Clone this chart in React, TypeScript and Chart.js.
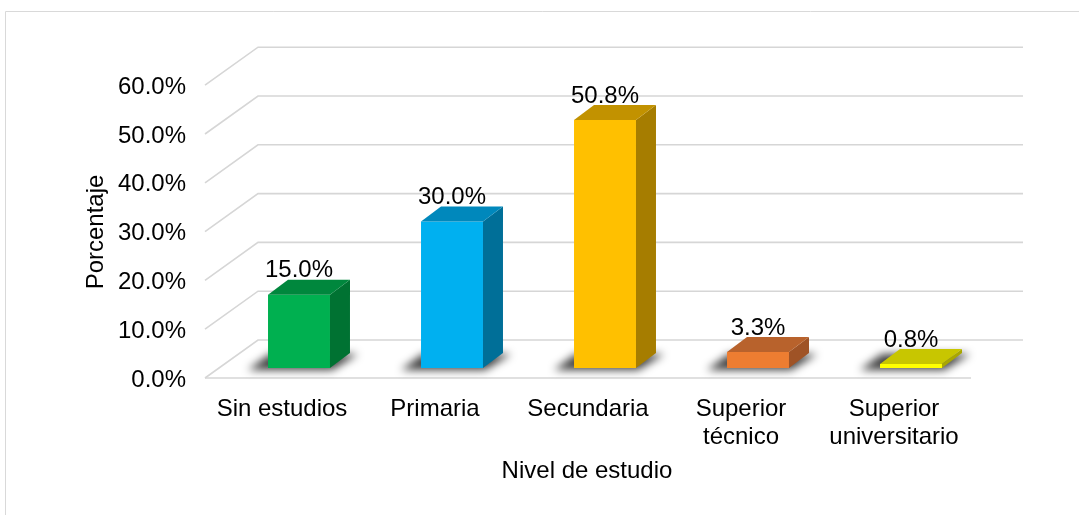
import React, { useEffect, useRef } from 'react';
import { Chart, registerables } from 'chart.js';

Chart.register(...registerables);

const categories: (string | string[])[] = [
  'Sin estudios',
  'Primaria',
  'Secundaria',
  ['Superior', 'técnico'],
  ['Superior', 'universitario'],
];
const values: number[] = [15.0, 30.0, 50.8, 3.3, 0.8];
const valueLabels: string[] = ['15.0%', '30.0%', '50.8%', '3.3%', '0.8%'];
const yTickValues: number[] = [0, 10, 20, 30, 40, 50, 60];
const frontColors: string[] = ['#00B050', '#00B0F0', '#FFC000', '#ED7D31', '#FFFF00'];
const topColors: string[] = ['#00873D', '#0088BC', '#C29200', '#B8622C', '#C8C600'];
const sideColors: string[] = ['#007232', '#006F98', '#A67D00', '#9F5326', '#A9A700'];
const yAxisTitle = 'Porcentaje';
const xAxisTitle = 'Nivel de estudio';

const FONT = "'Liberation Sans', Arial, sans-serif";
const DEPTH_X = 20;
const DEPTH_Y = 15;
const WALL_X = 35.5;
const WALL_Y = 28;
const FLOOR_X = 17.5;
const FLOOR_Y = 10;

const threeD = {
  id: 'threeD',
  beforeDatasetsDraw(chart: any) {
    const { ctx, chartArea, scales } = chart;
    const y = scales.y;
    ctx.save();
    ctx.strokeStyle = '#d9d9d9';
    ctx.lineWidth = 1;
    ctx.beginPath();
    ctx.moveTo(5.5, chart.height);
    ctx.lineTo(5.5, 11.5);
    ctx.lineTo(chart.width, 11.5);
    ctx.stroke();
    ctx.strokeStyle = '#d6d6d6';
    ctx.lineWidth = 1.6;
    yTickValues.forEach((v) => {
      const py = y.getPixelForValue(v);
      ctx.beginPath();
      ctx.moveTo(chartArea.left - FLOOR_X, py + FLOOR_Y);
      ctx.lineTo(chartArea.left + WALL_X, py - WALL_Y);
      ctx.lineTo(chartArea.right + WALL_X, py - WALL_Y);
      ctx.stroke();
    });
    const p0 = y.getPixelForValue(0);
    ctx.beginPath();
    ctx.moveTo(chartArea.left - FLOOR_X, p0 + FLOOR_Y);
    ctx.lineTo(chartArea.right - FLOOR_X + 1, p0 + FLOOR_Y);
    ctx.stroke();
    const meta = chart.getDatasetMeta(0);
    meta.data.forEach((bar: any) => {
      const w = bar.width;
      const l = bar.x - w / 2;
      const r = bar.x + w / 2;
      const b = bar.base;
      ctx.save();
      ctx.filter = 'blur(4px)';
      ctx.fillStyle = 'rgba(0,0,0,0.75)';
      ctx.beginPath();
      ctx.moveTo(l - 20, b + 2);
      ctx.lineTo(r + 2, b + 2);
      ctx.lineTo(r + 28, b - 14);
      ctx.lineTo(l + 2, b - 14);
      ctx.closePath();
      ctx.fill();
      ctx.restore();
    });
    ctx.restore();
  },
  afterDatasetsDraw(chart: any) {
    const { ctx } = chart;
    const meta = chart.getDatasetMeta(0);
    ctx.save();
    meta.data.forEach((bar: any, i: number) => {
      const w = bar.width;
      const l = bar.x - w / 2;
      const r = bar.x + w / 2;
      const t = bar.y;
      const b = bar.base;
      ctx.fillStyle = sideColors[i];
      ctx.beginPath();
      ctx.moveTo(r, t);
      ctx.lineTo(r + DEPTH_X, t - DEPTH_Y);
      ctx.lineTo(r + DEPTH_X, b - DEPTH_Y);
      ctx.lineTo(r, b);
      ctx.closePath();
      ctx.fill();
      ctx.fillStyle = topColors[i];
      ctx.beginPath();
      ctx.moveTo(l, t);
      ctx.lineTo(l + DEPTH_X, t - DEPTH_Y);
      ctx.lineTo(r + DEPTH_X, t - DEPTH_Y);
      ctx.lineTo(r, t);
      ctx.closePath();
      ctx.fill();
      ctx.fillStyle = '#000';
      ctx.font = `24px ${FONT}`;
      ctx.textAlign = 'center';
      ctx.textBaseline = 'middle';
      ctx.fillText(valueLabels[i], bar.x, t - 24);
    });
    ctx.fillStyle = '#000';
    ctx.font = `24px ${FONT}`;
    ctx.textAlign = 'center';
    ctx.textBaseline = 'middle';
    ctx.fillText(xAxisTitle, 587, 471);
    ctx.save();
    ctx.translate(96, 232);
    ctx.rotate(-Math.PI / 2);
    ctx.fillText(yAxisTitle, 0, 0);
    ctx.restore();
    ctx.restore();
  },
};

export default function App() {
  const ref = useRef<HTMLCanvasElement>(null);
  useEffect(() => {
    if (!ref.current) return;
    Chart.defaults.font.family = FONT;
    Chart.defaults.color = '#000';
    const chart = new Chart(ref.current, {
      type: 'bar',
      data: {
        labels: categories,
        datasets: [
          {
            data: values,
            backgroundColor: frontColors,
            borderWidth: 0,
            categoryPercentage: 1,
            barPercentage: 0.405,
          },
        ],
      },
      options: {
        responsive: false,
        animation: false,
        devicePixelRatio: 1,
        layout: { padding: { left: 81, top: 75.2, right: 91.5, bottom: 0 } },
        plugins: { legend: { display: false }, tooltip: { enabled: false } },
        scales: {
          x: {
            grid: { display: false, drawTicks: false },
            border: { display: false },
            ticks: {
              font: { size: 24, lineHeight: 1.15 },
              color: '#000',
              padding: 28,
              labelOffset: -17,
              autoSkip: false,
              maxRotation: 0,
              minRotation: 0,
            },
            afterFit: (s: any) => {
              s.height = 147;
            },
          },
          y: {
            min: 0,
            max: 60,
            grid: { display: false, drawTicks: false },
            border: { display: false },
            ticks: {
              stepSize: 10,
              font: { size: 24 },
              color: '#000',
              padding: 36.5,
              labelOffset: 12,
              callback: (v: any) => Number(v).toFixed(1) + '%',
            },
            afterFit: (s: any) => {
              s.width = 141.5;
            },
          },
        },
      },
      plugins: [threeD],
    });
    return () => chart.destroy();
  }, []);
  return (
    <div style={{ position: 'fixed', left: 0, top: 0, width: 1079, height: 515, background: '#fff' }}>
      <canvas ref={ref} width={1079} height={515} style={{ width: 1079, height: 515, display: 'block' }} />
    </div>
  );
}
